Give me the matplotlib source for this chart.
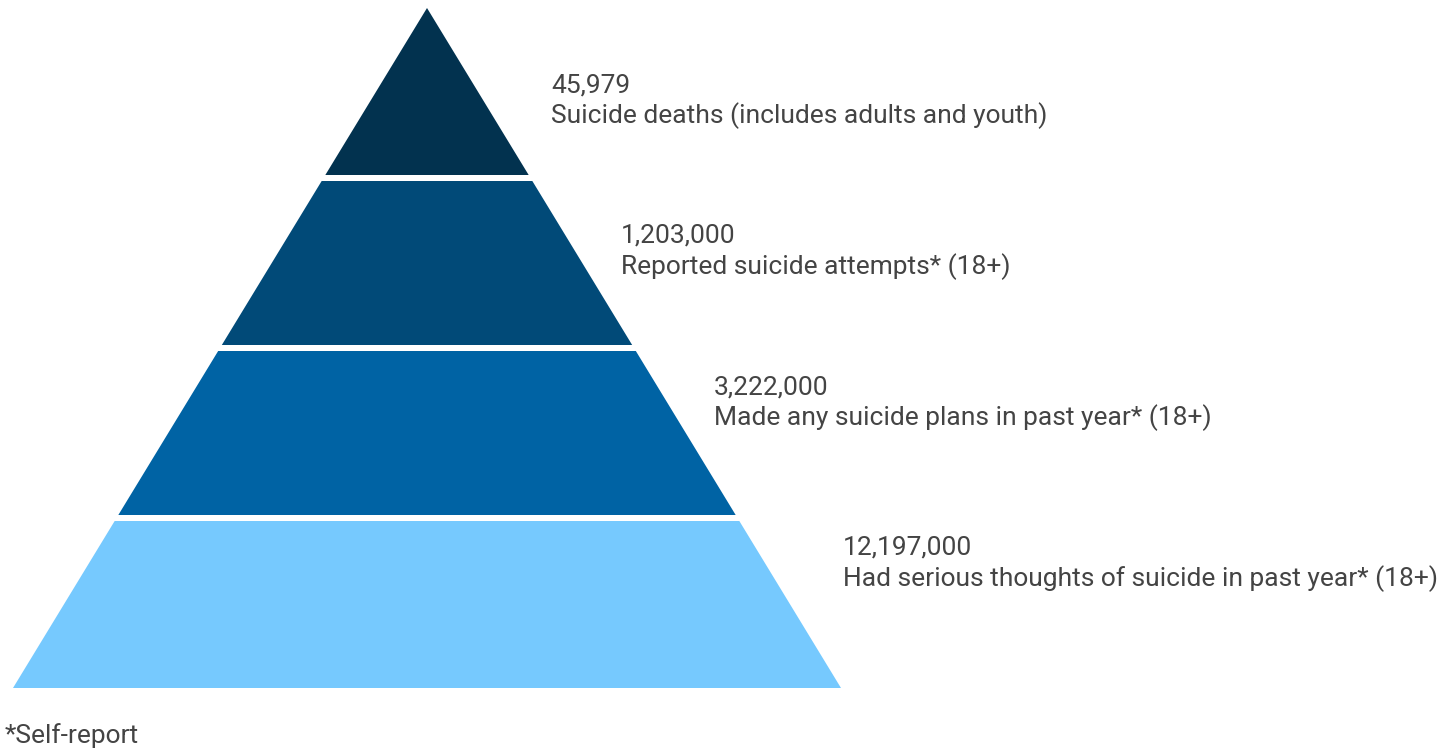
import matplotlib.pyplot as plt
from matplotlib.patches import Polygon

plt.rcParams['font.family'] = ['Roboto', 'DejaVu Sans']

# data, top of the pyramid first
values = ['45,979', '1,203,000', '3,222,000', '12,197,000']
labels = ['Suicide deaths (includes adults and youth)',
          'Reported suicide attempts* (18+)',
          'Made any suicide plans in past year* (18+)',
          'Had serious thoughts of suicide in past year* (18+)']
colors = ['#02324f', '#014a78', '#0063a4', '#76c9fe']
footnote = '*Self-report'

# layout in pixel units
W, H = 1449, 749
apex_x, apex_y = 427, 8
base_y, half_base = 688, 414
gap = 6
text_x = [551, 621, 714, 843]
text_y = [85, 236, 387, 548]
fs = 19

fig = plt.figure(figsize=(W / 100, H / 100), dpi=100)
ax = fig.add_axes([0, 0, 1, 1])
ax.set_xlim(0, W)
ax.set_ylim(H, 0)
ax.axis('off')

def half_w(y):
    return half_base * (y - apex_y) / (base_y - apex_y)

n = len(values)
step = (base_y - apex_y) / n
for i in range(n):
    y0 = apex_y + i * step + (gap / 2 if i > 0 else 0)
    y1 = apex_y + (i + 1) * step - (gap / 2 if i < n - 1 else 0)
    pts = [(apex_x - half_w(y0), y0), (apex_x + half_w(y0), y0),
           (apex_x + half_w(y1), y1), (apex_x - half_w(y1), y1)]
    ax.add_patch(Polygon(pts, closed=True, facecolor=colors[i], edgecolor='none'))
    ax.text(text_x[i], text_y[i], values[i], fontsize=fs, color='#444444', va='center')
    ax.text(text_x[i], text_y[i] + 31, labels[i], fontsize=fs, color='#444444', va='center')

ax.text(5, 736, footnote, fontsize=fs, color='#444444', va='center')

fig.savefig('out.png', dpi=100)
